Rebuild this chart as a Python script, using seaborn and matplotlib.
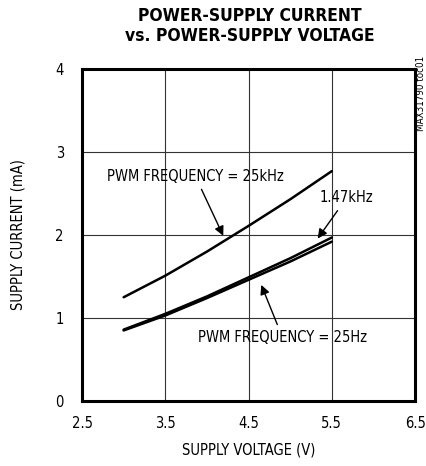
import numpy as np
import pandas as pd
import seaborn as sns
import matplotlib.pyplot as plt

# supply voltage (V) and supply current (mA)
voltage = [3.0, 3.5, 4.0, 4.5, 5.0, 5.5]
current_25khz = [1.25, 1.51, 1.80, 2.11, 2.43, 2.77]
current_1k47hz = [0.86, 1.05, 1.26, 1.49, 1.72, 1.97]
current_25hz = [0.85, 1.03, 1.24, 1.46, 1.68, 1.92]

x_ticks = [2.5, 3.5, 4.5, 5.5, 6.5]
y_ticks = [0, 1, 2, 3, 4]

df = pd.DataFrame({
    'voltage': voltage * 3,
    'current': current_25khz + current_1k47hz + current_25hz,
    'freq': ['25kHz'] * 6 + ['1.47kHz'] * 6 + ['25Hz'] * 6,
})

sns.set_style('white')
plt.rcParams['font.family'] = ['DejaVu Sans']
plt.rcParams['font.stretch'] = 'condensed'
for k in ['text.color', 'axes.labelcolor', 'xtick.color', 'ytick.color']:
    plt.rcParams[k] = 'black'

fig = plt.figure(figsize=(4.26, 4.66), dpi=100)
ax = fig.add_axes([0.1925, 0.1395, 0.782, 0.7124])

sns.lineplot(data=df, x='voltage', y='current', hue='freq', units='freq',
             estimator=None, palette=['black'] * 3, linewidth=1.8,
             legend=False, ax=ax)

ax.set_xlim(2.5, 6.5)
ax.set_ylim(0, 4)
ax.set_xticks(x_ticks)
ax.set_xticklabels([str(t) for t in x_ticks])
ax.set_yticks(y_ticks)
ax.grid(True, color='#333333', linewidth=0.8)
ax.tick_params(length=0, labelsize=10.5)
ax.tick_params(axis='x', pad=11)
ax.tick_params(axis='y', pad=13)
for s in ax.spines.values():
    s.set_visible(True)
    s.set_color('black')
    s.set_linewidth(2.2)

ax.set_xlabel('SUPPLY VOLTAGE (V)', fontsize=10.5, va='center')
ax.set_ylabel('SUPPLY CURRENT (mA)', fontsize=10.5, va='center')
ax.xaxis.set_label_coords(0.5, -0.148)
ax.yaxis.set_label_coords(-0.192, 0.5)

fig.text(0.587, 0.985, 'POWER-SUPPLY CURRENT\nvs. POWER-SUPPLY VOLTAGE',
         ha='center', va='top', fontsize=12.5, fontweight='heavy',
         linespacing=1.15)
fig.text(0.988, 0.88, 'MAX31790 toc01', rotation=90, ha='center', va='top',
         fontsize=7)

arrow = dict(arrowstyle='-|>', color='black', lw=1.0, mutation_scale=14)
ax.annotate('PWM FREQUENCY = 25kHz', xy=(4.21, 1.96), xytext=(3.86, 2.62),
            ha='center', va='bottom', fontsize=10.5, arrowprops=arrow)
ax.annotate('1.47kHz', xy=(5.31, 1.93), xytext=(5.68, 2.36),
            ha='center', va='bottom', fontsize=10.5, arrowprops=arrow)
ax.annotate('PWM FREQUENCY = 25Hz', xy=(4.64, 1.43), xytext=(4.91, 0.76),
            ha='center', va='center', fontsize=10.5, arrowprops=arrow)

fig.savefig('out.png', dpi=100)
